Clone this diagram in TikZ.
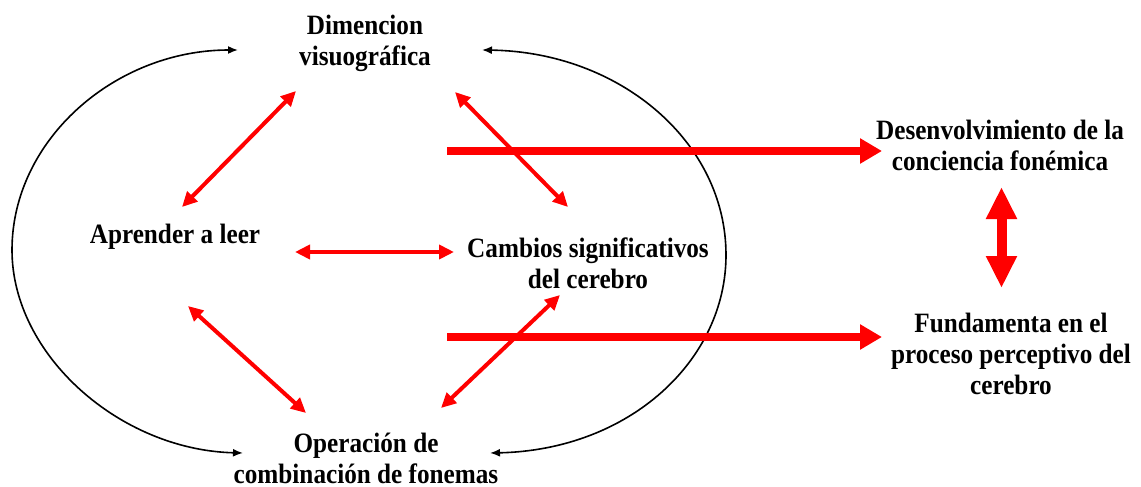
\documentclass[tikz,border=0pt]{standalone}
\usepackage{fontspec}
\setmainfont{Liberation Serif}[FakeStretch=0.9]
\usepackage{tikz}
\usetikzlibrary{arrows.meta}

\begin{document}
\begin{tikzpicture}[x=1pt,y=-1pt,
  lbl/.style={font=\bfseries\fontsize{28}{31}\selectfont, align=center, inner sep=0pt},
  redlink/.style={red, line width=4pt, {Triangle[length=15pt,width=14pt]}-{Triangle[length=15pt,width=14pt]}},
  redflow/.style={red, line width=8pt, -{Triangle[length=22pt,width=24pt]}},
  blackarc/.style={black, line width=1.6pt, {Latex[length=10pt,width=8pt]}-{Latex[length=10pt,width=8pt]}}]

\useasboundingbox (0,0) rectangle (1141,487);

\node[lbl] (dim) at (365,43) {Dimencion\\visuográfica};
\node[lbl] (apr) at (175,237) {Aprender a leer};
\node[lbl] (cam) at (588,263) {Cambios significativos\\del cerebro};
\node[lbl] (ope) at (366,458) {Operación de\\combinación de fonemas};
\node[lbl] (des) at (1000,145) {Desenvolvimiento de la\\conciencia fonémica};
\node[lbl] (fun) at (1011,354) {Fundamenta en el\\proceso perceptivo del\\cerebro};

% arcs round the four
\draw[blackarc] ([shift={(-127,7)}]dim.center) .. controls (115,50) and (12,140) .. (12,250)
   .. controls (12,355) and (120,450) .. ([shift={(-123,-5)}]ope.center);
\draw[blackarc] ([shift={(117,7)}]dim.center) .. controls (620,52) and (726,142) .. (726,255)
   .. controls (726,360) and (630,450) .. ([shift={(124,-5)}]ope.center);

% links between the four
\draw[redlink] ([shift={(7,-30)}]apr.center) -- ([shift={(-69,48)}]dim.center);
\draw[redlink] ([shift={(90,49)}]dim.center) -- ([shift={(-20,-56)}]cam.center);
\draw[redlink] ([shift={(120,15)}]apr.center) -- ([shift={(-134,-11)}]cam.center);
\draw[redlink] ([shift={(13,69)}]apr.center) -- ([shift={(-60,-45)}]ope.center);
\draw[redlink] ([shift={(75,-50)}]ope.center) -- ([shift={(-28,32)}]cam.center);

% out to the right
\coordinate (outA) at (447,151);
\coordinate (outB) at (447,337);
\draw[redflow] (outA) -- ([shift={(-118,6)}]des.center);
\draw[redflow] (outB) -- ([shift={(-129,-17)}]fun.center);
\draw[red, line width=10pt, {Triangle[length=32pt,width=29pt]}-{Triangle[length=32pt,width=29pt]}]
   ([shift={(1.5,42)}]des.center) -- ([shift={(-9.5,-66)}]fun.center);
\end{tikzpicture}
\end{document}
